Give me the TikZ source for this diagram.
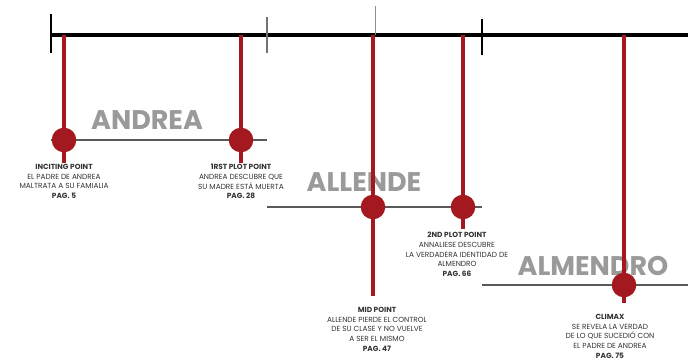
\documentclass[tikz,border=0pt]{standalone}
\usepackage{fontspec}
\setmainfont{Poppins}
\usetikzlibrary{calc}

\definecolor{plotred}{HTML}{A3191F}
\definecolor{namegray}{HTML}{9A9A9A}

\tikzset{
  plotdot/.style={circle, fill=plotred, inner sep=0pt, minimum size=21pt},
  plotline/.style={plotred, line width=4.2pt},
  actline/.style={black!65, line width=1.1pt},
  namelabel/.style={font=\bfseries\fontsize{23}{23}\selectfont, text=namegray},
  infolabel/.style={font=\fontsize{6.3}{8.3}\selectfont, text=black!80, align=center, anchor=north, inner sep=0pt},
}

\begin{document}
\begin{tikzpicture}[x=0.03cm, y=-0.03cm]
\useasboundingbox (0,0) rectangle (688,360);

% === MAIN TIMELINE ===
\coordinate (start) at (51,35);
\coordinate (end) at (688,35);
\draw[black, line width=3.2pt] (start) -- (end);
\draw[black, line width=1pt] (51,14) -- (51,53);
\draw[black!55, line width=1pt] (267,17) -- (267,53);
\draw[black!45, line width=0.8pt] (375,6) -- (375,35);
\draw[black, line width=1pt] (482,19) -- (482,55);

% === ACT LINES ===
\draw[actline] (51,140) -- (267,140);
\draw[actline] (267,207) -- (482,207);
\draw[actline] (482,285) -- (688,285);

% === NAMES ===
\node[namelabel] (andrea) at (147,120) {ANDREA};
\node[namelabel] (allende) at (364,182) {ALLENDE};
\node[namelabel] (almendro) at (593,266) {ALMENDRO};

% === PLOT POINTS ===
\foreach \name/\x/\y/\ybot in {inciting/64/140/163, first/241/140/163, mid/373/207/296, second/463/207/229, climax/624/285/303} {
  \coordinate (\name top) at (\x,35);
  \coordinate (\name bot) at (\x,\ybot);
  \draw[plotline] (\name top) -- (\name bot);
  \node[plotdot] (\name) at (\x,\y) {};
}

% === TEXTS ===
\node[infolabel] (incitingtext) at (64,164) {\textbf{INCITING POINT}\\EL PADRE DE ANDREA\\MALTRATA A SU FAMIALIA\\\textbf{PAG. 5}};
\node[infolabel] (firsttext) at (241,164) {\textbf{1RST PLOT POINT}\\ANDREA DESCUBRE QUE\\SU MADRE ESTÁ MUERTA\\\textbf{PAG. 28}};
\node[infolabel] (secondtext) at (457,232) {\textbf{2ND PLOT POINT}\\ANNALIESE DESCUBRE\\LA VERDADERA IDENTIDAD DE\\ALMENDRO\\\textbf{PAG. 66}};
\node[infolabel] (midtext) at (377,307) {\textbf{MID POINT}\\ALLENDE PIERDE EL CONTROL\\DE SU CLASE Y NO VUELVE\\A SER EL MISMO\\\textbf{PAG. 47}};
\node[infolabel] (climaxtext) at (610,314) {\textbf{CLIMAX}\\SE REVELA LA VERDAD\\DE LO QUE SUCEDIÓ CON\\EL PADRE DE ANDREA\\\textbf{PAG. 75}};

\end{tikzpicture}
\end{document}
